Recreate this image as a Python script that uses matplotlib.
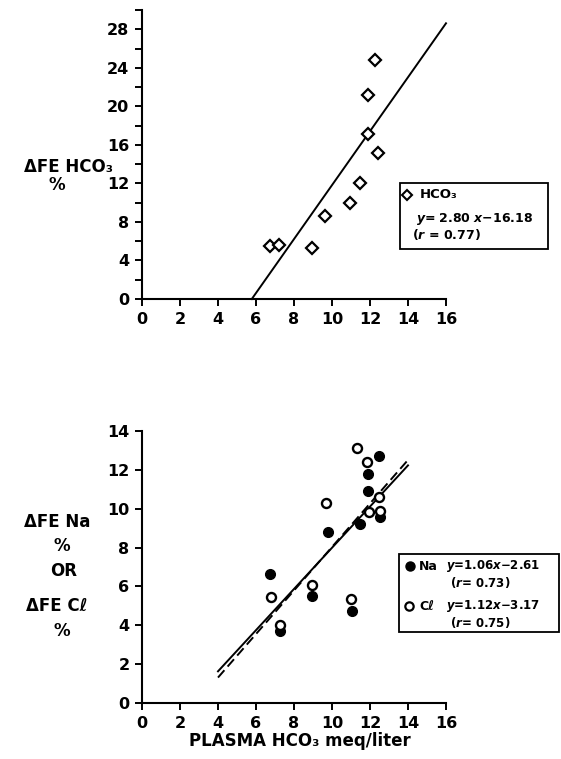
import matplotlib
matplotlib.use("Agg")
from matplotlib import pyplot as plt
from matplotlib.patches import Rectangle
from matplotlib.lines import Line2D
import numpy as np

plt.rcParams['font.family'] = ['DejaVu Sans']
plt.rcParams['font.weight'] = 'bold'
plt.rcParams['mathtext.fontset'] = 'dejavusans'

# top panel: delta FE HCO3 vs plasma HCO3
hco3_x = [6.75, 7.20, 8.93, 9.65, 10.94, 11.45, 11.92, 11.92, 12.25, 12.44]
hco3_y = [5.5, 5.6, 5.25, 8.6, 10.0, 12.05, 17.15, 21.2, 24.8, 15.2]
hco3_fit = (2.80, -16.18)
hco3_fit_x = [16.18 / 2.80, 16.0]

# bottom panel: delta FE Na and delta FE Cl
na_x = [6.75, 7.28, 8.97, 9.77, 11.03, 11.47, 11.90, 11.90, 12.48, 12.55]
na_y = [6.64, 3.73, 5.51, 8.78, 4.71, 9.21, 11.78, 10.89, 12.69, 9.55]
cl_x = [6.79, 7.28, 8.94, 9.70, 11.01, 11.34, 11.85, 11.97, 12.48, 12.55]
cl_y = [5.45, 4.04, 6.06, 10.27, 5.33, 13.10, 12.38, 9.85, 10.62, 9.90]
na_fit = (1.06, -2.61)
cl_fit = (1.12, -3.17)
fit_x = [4.0, 14.0]

x_ticks = list(range(0, 17, 2))

W, H = 561, 759


def fx(px):
    return px / W


def fy(py):
    return 1 - py / H


fig = plt.figure(figsize=(5.61, 7.59), dpi=100)

ax1 = fig.add_axes([fx(142), fy(299), fx(446) - fx(142), fy(10) - fy(299)])
ax2 = fig.add_axes([fx(142), fy(703), fx(446) - fx(142), fy(431) - fy(703)])

for ax in (ax1, ax2):
    ax.spines['top'].set_visible(False)
    ax.spines['right'].set_visible(False)
    ax.spines['left'].set_linewidth(1.5)
    ax.spines['bottom'].set_linewidth(1.5)
    ax.tick_params(length=5, width=1.4, labelsize=11.5, pad=4)
    ax.set_xlim(0, 16)
    ax.set_xticks(x_ticks)
    for lab in ax.get_xticklabels() + ax.get_yticklabels():
        lab.set_fontweight('bold')

# top
ax1.set_ylim(0, 30)
ax1.set_yticks(range(0, 31, 2))
ax1.set_yticklabels([str(v) if v % 4 == 0 and v < 30 else '' for v in range(0, 31, 2)])
for lab in ax1.get_yticklabels():
    lab.set_fontweight('bold')
fx1 = np.array(hco3_fit_x)
ax1.plot(fx1, hco3_fit[0] * fx1 + hco3_fit[1], color='black', lw=1.4, clip_on=False)
ax1.plot(hco3_x, hco3_y, linestyle='none', marker='D', ms=6, mfc='white',
         mec='black', mew=1.6)

# bottom
ax2.set_ylim(0, 14)
ax2.set_yticks(range(0, 15, 2))
for lab in ax2.get_yticklabels():
    lab.set_fontweight('bold')
fx2 = np.array(fit_x)
ax2.plot(fx2, na_fit[0] * fx2 + na_fit[1], color='black', lw=1.4)
ax2.plot(fx2, cl_fit[0] * fx2 + cl_fit[1], color='black', lw=1.4, ls=(0, (5, 2.5)))
ax2.plot(na_x, na_y, linestyle='none', marker='o', ms=7, mfc='black', mec='black')
ax2.plot(cl_x, cl_y, linestyle='none', marker='o', ms=6.5, mfc='white',
         mec='black', mew=1.7)

# y labels
fig.text(fx(68), fy(167), 'ΔFE HCO₃', ha='center', va='center', fontsize=12, fontweight='bold')
fig.text(fx(57), fy(185), '%', ha='center', va='center', fontsize=12, fontweight='bold')
fig.text(fx(57), fy(522), 'ΔFE Na', ha='center', va='center', fontsize=12, fontweight='bold')
fig.text(fx(62), fy(546), '%', ha='center', va='center', fontsize=12, fontweight='bold')
fig.text(fx(64), fy(571), 'OR', ha='center', va='center', fontsize=12, fontweight='bold')
fig.text(fx(57), fy(606), 'ΔFE Cℓ', ha='center', va='center', fontsize=12, fontweight='bold')
fig.text(fx(62), fy(631), '%', ha='center', va='center', fontsize=12, fontweight='bold')

# x label
fig.text(fx(300), fy(741), 'PLASMA HCO₃ meq/liter', ha='center', va='center',
         fontsize=12, fontweight='bold')

# top legend box
fig.add_artist(Rectangle((fx(400), fy(249)), fx(548) - fx(400), fy(183) - fy(249),
                         transform=fig.transFigure, fill=False, lw=1.3, color='black'))
fig.add_artist(Line2D([fx(407)], [fy(195)], transform=fig.transFigure, marker='D',
                      ms=5.5, mfc='white', mec='black', mew=1.5))
fig.text(fx(420), fy(195), 'HCO₃', va='center', fontsize=9.5, fontweight='bold')
fig.text(fx(416), fy(219), r'$y$= 2.80 $x$−16.18', va='center', fontsize=9, fontweight='bold')
fig.text(fx(412), fy(234), r'($r$ = 0.77)', va='center', fontsize=9, fontweight='bold')

# bottom legend box
fig.add_artist(Rectangle((fx(399), fy(632)), fx(559) - fx(399), fy(554) - fy(632),
                         transform=fig.transFigure, fill=False, lw=1.3, color='black'))
fig.add_artist(Line2D([fx(410)], [fy(566)], transform=fig.transFigure, marker='o',
                      ms=6.5, mfc='black', mec='black'))
fig.add_artist(Line2D([fx(409)], [fy(606)], transform=fig.transFigure, marker='o',
                      ms=6, mfc='white', mec='black', mew=1.6))
fig.text(fx(419), fy(566), 'Na', va='center', fontsize=9, fontweight='bold')
fig.text(fx(446), fy(566), r'$y$=1.06$x$−2.61', va='center', fontsize=8.5, fontweight='bold')
fig.text(fx(450), fy(582), r'($r$= 0.73)', va='center', fontsize=8.5, fontweight='bold')
fig.text(fx(419), fy(606), 'Cℓ', va='center', fontsize=9, fontweight='bold')
fig.text(fx(446), fy(606), r'$y$=1.12$x$−3.17', va='center', fontsize=8.5, fontweight='bold')
fig.text(fx(450), fy(622), r'($r$= 0.75)', va='center', fontsize=8.5, fontweight='bold')

fig.savefig('out.png', dpi=100)
plt.close(fig)
